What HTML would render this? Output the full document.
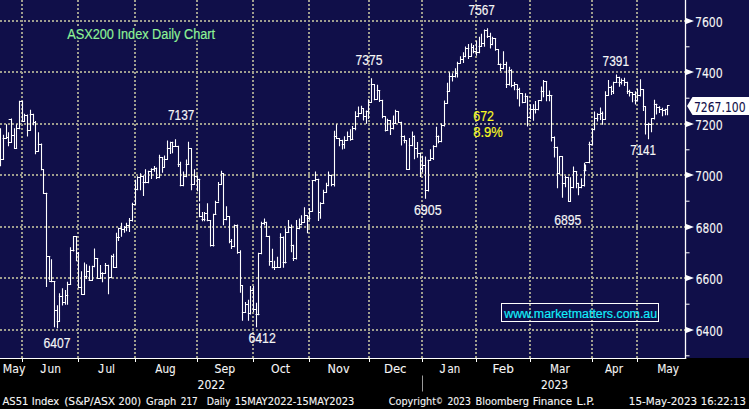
<!DOCTYPE html>
<html lang="en"><head><meta charset="utf-8"><title>ASX200 Index Daily Chart</title>
<style>
html,body{margin:0;padding:0;background:#000;}
body{width:749px;height:409px;position:relative;overflow:hidden;font-family:"Liberation Sans",Arial,sans-serif;}
</style></head><body>
<svg width="749" height="409" viewBox="0 0 749 409" style="display:block;position:absolute;left:0;top:0">
<rect x="0" y="0" width="749" height="409" fill="#000"/>
<rect x="0" y="0" width="749" height="358" fill="#100f49"/>
<path d="M0 330.0H686M0 278.0H686M0 227.0H686M0 175.0H686M0 124.0H686M0 72.0H686M0 21.0H686" stroke="#9f9e8e" stroke-width="2" stroke-dasharray="2 2" fill="none"/>
<path d="M22 0V358M78 0V358M135 0V358M197 0V358M253 0V358M309 0V358M369 0V358M422 0V358M476 0V358M530 0V358M592 0V358M637 0V358" stroke="#9f9e8e" stroke-width="2" stroke-dasharray="2 2" fill="none"/>
<path d="M685.5 0V359" stroke="#fff" stroke-width="1.3" fill="none"/><path d="M0 358.5H686.2" stroke="#fff" stroke-width="1" fill="none"/>
<path d="M686 355.8h3.5M686 304.2h3.5M686 252.8h3.5M686 201.2h3.5M686 149.8h3.5M686 98.2h3.5M686 46.8h3.5" stroke="#fff" stroke-width="1" fill="none"/>
<path d="M686 327.0L694 330.0L686 333.0ZM686 275.0L694 278.0L686 281.0ZM686 224.0L694 227.0L686 230.0ZM686 172.0L694 175.0L686 178.0ZM686 121.0L694 124.0L686 127.0ZM686 69.0L694 72.0L686 75.0ZM686 18.0L694 21.0L686 24.0Z" fill="#fff"/>
<path d="M22.5 358.5V362M78.5 358.5V362M135.5 358.5V362M197.5 358.5V362M253.5 358.5V362M309.5 358.5V362M369.5 358.5V362M422.5 358.5V362M476.5 358.5V362M530.5 358.5V362M592.5 358.5V362M637.5 358.5V362" stroke="#fff" stroke-width="1" fill="none"/>
<path d="M422.5 375.5V391.5" stroke="#9a9a9a" stroke-width="1" fill="none"/>
<path d="M0.5 128.7V156.0M3.5 135.2V156.0M3.2 138.5H6.5M6.5 124.7V138.4M6.5 137.5H8.4M8.5 132.7V145.6M8.4 142.5H11.3M9.2 119.5H11.3M11.5 119.0V142.4M12.1 135.5H14.5M14.5 128.7V148.1M14.5 148.5H16.6M16.5 124.7V148.1M16.6 128.5H19.7M19.5 101.3V128.7M19.7 101.5H22.3M22.5 101.3V121.5M22.3 121.5H24.5M24.5 114.2V121.5M24.5 115.5H27.4M27.5 115.0V136.0M27.4 130.5H30.3M30.5 110.2V130.3M30.3 114.5H33.4M33.5 114.2V124.7M33.4 122.5H35.5M35.5 121.5V153.7M35.5 151.5H38.4M38.5 132.7V151.3M38.4 144.5H41.6M41.5 144.0V156.0M0.5 154.5V165.8M0.5 159.5H3.2M3.5 154.5V159.4M41.5 154.5V169.8M41.6 169.5H43.5M43.5 169.8V193.2M43.5 193.5H46.8M46.5 193.2V206.0M46.5 204.1V262.0M118.5 228.3V240.4M118.9 228.5H121.3M121.5 223.4V236.3M121.3 229.5H124.5M124.5 226.6V232.3M124.5 227.5H126.9M126.5 223.4V230.7M126.9 225.5H129.4M129.5 218.6V231.5M129.4 220.5H132.4M132.5 203.3V221.0M132.4 204.5H135.3M135.5 196.0V204.1M46.5 246.1V286.5M46.5 256.5H49.7M49.5 256.6V280.0M51.5 259.8V281.6M49.7 281.5H54.8M54.5 281.6V296.0M67.5 282.4V296.0M67.7 284.5H70.6M70.5 247.7V284.0M70.6 250.5H73.9M73.5 236.5V251.0M73.9 236.5H76.8M76.5 236.5V260.6M76.8 253.5H78.4M78.5 252.6V287.3M78.4 287.5H81.6M81.5 271.9V294.5M81.6 294.5H84.4M84.5 263.1V294.5M84.4 276.5H86.8M86.5 264.7V278.4M86.8 271.5H89.2M89.5 266.3V280.0M89.2 280.5H92.4M92.5 266.3V280.0M92.4 266.5H94.5M94.5 249.0V266.8M94.5 258.5H97.7M97.5 258.7V278.4M97.7 278.5H100.5M100.5 265.5V278.4M100.5 273.5H102.6M102.5 272.7V281.6M102.6 273.5H105.3M105.5 263.5V273.5M105.3 265.5H108.5M108.5 265.2V293.7M108.5 277.5H111.5M111.5 255.8V277.6M111.5 256.5H113.7M113.5 254.2V267.4M113.7 267.5H116.6M116.5 233.2V267.4M116.6 237.5H119.4M54.5 294.5V326.8M54.8 310.5H57.3M57.5 305.8V327.6M57.3 321.5H59.4M59.5 293.7V321.1M59.4 296.5H62.6M62.5 288.9V305.0M62.6 302.5H65.5M65.5 290.5V304.2M65.5 295.5H67.7M67.5 283.2V304.2M135.5 180.2V201.0M135.2 189.5H137.6M137.5 176.9V189.8M137.6 177.5H140.5M140.5 173.7V189.8M140.5 176.5H143.2M143.5 176.1V195.5M143.2 182.5H148.4M145.5 169.7V182.6M148.5 171.3V182.6M148.4 171.5H151.3M151.5 168.9V178.5M151.3 169.5H154.2M154.5 166.5V171.3M154.2 168.5H156.6M156.5 168.1V178.5M156.6 177.5H159.4M159.5 155.2V177.7M159.4 157.5H162.6M162.5 157.6V172.1M162.6 167.5H164.2M164.5 156.0V167.3M164.2 159.5H167.4M167.5 141.1V159.2M167.4 148.5H170.6M170.5 142.3V153.5M170.6 142.5H172.7M172.5 142.3V152.7M172.7 146.5H178.2M175.5 139.8V146.3M178.5 146.3V166.5M178.2 164.5H180.3M180.5 162.4V185.8M180.3 185.5H183.5M183.5 172.1V185.8M183.5 176.5H186.3M186.5 160.0V176.6M186.3 164.5H188.7M188.5 142.3V164.0M188.7 148.5H191.3M191.5 148.7V189.8M191.3 184.5H194.4M194.5 169.7V184.2M194.4 176.5H197.3M197.5 176.1V190.6M197.3 179.5H199.7M199.5 179.4V201.0M218.5 182.6V201.0M218.7 184.5H221.5M221.5 171.3V184.2M221.5 173.5H223.4M223.5 173.7V201.0M199.5 203.7V216.6M199.4 216.5H202.1M202.5 212.6V220.6M202.1 219.5H204.8M204.5 212.6V220.6M204.8 213.5H207.3M207.5 203.7V220.6M207.3 220.5H210.6M210.5 220.6V225.0M213.5 214.2V225.0M213.9 214.5H215.8M215.5 201.3V214.2M215.8 202.5H218.5M223.5 197.3V224.7M223.5 219.5H226.6M226.5 206.9V219.8M226.6 216.5H229.5M229.5 216.6V225.0M234.5 225.5V226.3M234.4 225.5H237.6M237.5 225.5V226.3M261.5 222.3V225.0M261.5 223.5H264.2M264.5 219.0V224.7M264.2 222.5H266.3M266.5 222.3V225.0M285.5 228.7V231.0M288.5 220.6V231.0M288.4 227.5H291.3M291.5 227.1V231.0M296.5 220.6V231.0M296.5 228.5H299.4M299.5 219.0V228.7M299.4 224.5H301.6M301.5 215.8V224.7M301.6 222.5H304.5M304.5 207.7V222.3M304.5 215.5H307.4M307.5 215.8V232.7M307.4 218.5H309.8M309.5 208.5V219.8M210.5 225.0V246.0M210.6 245.5H213.9M213.5 225.0V246.0M229.5 225.0V242.7M229.5 241.5H231.6M231.5 239.5V248.4M231.6 246.5H234.4M234.5 225.0V246.8M237.5 225.0V253.2M237.6 252.5H240.5M240.5 250.8V279.8M258.5 253.2V279.8M258.5 253.5H261.5M261.5 225.0V253.7M266.5 225.0V236.3M266.3 236.5H269.4M269.5 236.3V265.3M269.4 261.5H272.3M272.5 249.2V267.7M272.3 267.5H275.0M274.5 261.3V269.4M275.0 267.5H280.3M277.5 257.3V267.3M280.5 233.9V267.3M280.3 237.5H283.2M283.5 237.1V267.3M283.2 262.5H286.0M285.5 229.0V262.9M286.0 232.5H288.7M288.5 225.0V232.3M291.5 225.0V251.6M291.3 245.5H293.2M293.5 245.2V260.5M293.2 258.5H296.5M296.5 225.0V258.9M240.5 280.0V292.1M240.5 285.5H242.4M242.5 285.6V320.3M242.4 312.5H245.6M245.5 302.6V312.3M245.6 304.5H248.4M248.5 300.2V320.3M248.4 313.5H250.5M250.5 286.5V313.9M250.5 290.5H253.2M253.5 286.5V311.5M253.2 309.5H256.1M256.5 303.4V326.8M256.1 314.5H258.9M258.5 280.0V314.7M309.8 211.5H312.3M312.5 181.0V211.3M312.3 180.5H315.5M315.5 172.1V181.0M315.5 179.5H318.7M318.5 179.4V220.5M318.7 212.5H320.5M320.5 202.7V218.1M320.5 203.5H323.7M323.5 190.3V203.2M323.7 192.5H326.5M326.5 183.4V192.3M326.5 185.5H328.5M328.5 172.1V185.8M328.5 175.5H331.6M331.5 175.3V185.8M331.6 184.5H334.5M334.5 131.3V186.0M334.4 136.5H336.6M336.5 124.8V138.5M336.6 138.5H339.5M339.5 138.5V145.8M339.5 140.5H342.3M342.5 140.2V149.0M342.3 144.5H344.4M344.5 136.9V148.2M344.4 140.5H347.6M347.5 132.1V140.2M347.6 136.5H350.5M350.5 129.7V140.2M350.5 139.5H352.7M352.5 126.5V139.4M352.7 128.5H355.6M355.5 120.0V128.9M401.5 122.4V145.0M401.3 136.5H404.0M404.5 136.1V142.6M404.0 140.5H406.5M406.5 141.0V169.2M406.5 169.5H409.4M409.5 138.5V169.2M409.4 145.5H412.6M412.5 132.1V145.8M412.6 136.5H414.5M414.5 136.1V158.7M414.5 148.5H417.4M417.5 142.6V157.1M417.4 153.5H420.5M420.5 153.1V176.5M420.5 168.5H422.6M422.5 156.3V171.6M422.6 165.5H425.3M425.5 157.1V198.2M425.3 190.5H428.2M428.5 160.3V191.0M428.2 160.5H430.6M430.5 149.8V160.3M430.6 158.5H433.4M433.5 145.8V159.5M433.4 146.5H436.3M436.5 127.3V146.6M436.3 136.5H438.7M438.5 136.1V142.6M438.7 141.5H441.5M441.5 124.0V141.8M441.5 125.5H444.4M444.5 120.0V125.6M336.5 124.8V134.5M355.5 111.9V129.7M355.5 116.5H358.2M358.5 107.1V116.8M358.2 113.5H361.5M361.5 106.3V113.5M361.5 108.5H363.5M363.5 108.7V120.0M363.5 116.5H366.3M366.5 111.1V123.2M366.3 111.5H368.9M368.5 99.8V118.4M368.9 102.5H371.3M371.5 78.9V102.3M371.3 84.5H374.4M374.5 84.5V99.8M374.4 99.5H377.3M377.5 85.3V99.0M377.3 90.5H379.7M379.5 91.0V101.5M379.7 100.5H382.6M382.5 100.3V117.6M382.6 116.5H385.3M385.5 116.8V131.0M385.3 130.5H387.7M387.5 119.2V130.5M387.7 120.5H390.5M390.5 120.8V134.5M390.5 128.5H393.1M393.5 116.0V128.9M393.1 123.5H395.8M395.5 110.3V123.2M395.8 111.5H398.5M398.5 111.6V122.4M398.5 122.5H401.5M401.5 122.4V134.5M444.5 101.1V126.0M444.5 103.5H447.3M447.5 83.4V103.2M447.3 91.5H449.4M449.5 72.9V91.5M449.4 76.5H455.5M452.5 73.7V81.0M455.5 68.9V76.9M455.5 73.5H457.4M457.5 62.4V76.9M457.4 63.5H460.3M506.5 62.4V87.4M506.3 84.5H509.0M509.5 67.3V85.0M509.0 70.5H511.5M511.5 69.7V86.6M511.5 85.5H514.4M514.5 82.6V89.8M514.4 84.5H517.1M517.5 85.0V98.7M517.1 89.5H519.5M519.5 88.2V106.0M519.5 93.5H522.4M522.5 93.9V102.7M522.4 102.5H525.2M525.5 93.9V102.3M525.2 96.5H527.6M527.5 96.3V126.0M527.6 117.5H530.3M460.5 56.7V63.2M460.5 59.5H463.4M463.5 52.7V62.4M463.4 56.5H465.5M465.5 47.1V56.7M465.5 48.5H468.7M468.5 44.6V58.4M468.7 56.5H471.5M471.5 43.8V56.3M471.5 47.5H473.4M473.5 45.5V52.7M473.4 51.5H476.3M476.5 41.4V55.1M476.3 52.5H479.2M479.5 37.4V52.7M479.2 46.5H481.6M481.5 34.2V46.3M481.6 43.5H484.4M484.5 30.1V46.3M484.4 30.5H487.3M487.5 28.8V37.4M487.3 36.5H490.5M490.5 33.4V47.9M490.5 44.5H492.4M492.5 37.4V44.6M492.4 38.5H495.6M495.5 39.0V50.3M495.6 49.5H498.1M498.5 49.5V64.0M498.1 64.5H501.0M500.5 64.0V70.5M501.0 68.5H503.4M503.5 51.9V68.8M503.4 64.5H506.5M530.5 104.8V118.5M530.8 109.5H538.4M533.5 104.8V120.2M535.5 101.6V112.9M538.5 100.8V109.7M538.4 100.5H541.3M541.5 87.1V100.8M541.3 91.5H543.7M543.5 80.6V96.8M543.7 81.5H546.6M546.5 81.5V100.8M546.6 95.5H551.8M549.5 91.1V100.8M551.5 95.6V141.0M551.8 137.5H554.2M554.5 137.1V141.0M592.5 129.0V141.0M592.1 129.5H594.5M594.5 112.1V129.8M594.5 118.5H597.7M597.5 113.7V121.0M597.7 114.5H600.5M600.5 108.1V119.4M600.5 113.5H602.6M602.5 112.1V124.2M602.6 119.5H605.5M605.5 91.9V119.4M605.5 95.5H608.5M608.5 80.6V95.2M608.5 87.5H611.5M611.5 86.3V94.4M611.5 91.5H613.5M613.5 82.3V93.5M613.5 82.5H616.8M616.5 75.0V82.3M616.8 77.5H619.0M619.5 77.4V86.3M619.0 82.5H621.6M621.5 79.0V83.9M621.6 80.5H624.4M624.5 78.2V85.5M624.4 82.5H627.3M627.5 82.3V93.5M627.3 91.5H629.7M629.5 90.3V96.0M629.7 92.5H632.4M632.5 92.7V101.6M632.4 94.5H635.2M635.5 91.9V104.0M635.2 100.5H637.3M637.5 89.5V100.8M637.3 95.5H640.5M640.5 79.8V96.0M640.5 89.5H643.4M643.5 89.5V110.5M643.4 106.5H645.3M645.5 106.5V133.9M645.3 124.5H648.2M648.5 123.4V138.7M554.5 140.0V156.9M554.2 147.5H557.3M557.5 147.3V187.6M557.3 173.5H559.5M559.5 156.9V173.9M559.5 156.5H562.4M562.5 156.9V197.3M562.4 183.5H565.3M565.5 176.3V186.8M565.3 177.5H568.5M568.5 177.4V201.3M568.5 201.5H570.5M570.5 177.9V201.3M570.5 187.5H573.4M573.5 167.1V187.6M573.4 171.5H576.6M576.5 171.5V187.6M576.6 183.5H578.5M578.5 183.2V194.8M578.5 187.5H581.5M581.5 178.7V187.6M581.5 185.5H584.2M584.5 163.4V186.0M584.2 170.5H585.8M585.5 165.0V170.6M585.8 162.5H589.0M589.5 142.4V162.6M589.0 144.5H592.3M592.5 140.0V144.8M648.4 124.5H651.6M651.5 118.9V131.8M651.6 118.5H654.4M654.5 100.3V118.9M654.4 104.5H656.8M656.5 104.4V114.0M656.8 107.5H659.7M659.5 106.8V112.4M659.7 109.5H662.4M662.5 108.4V115.6M662.4 110.5H665.2M665.5 109.2V114.8M665.2 109.5H667.6M667.5 106.0V114.8M667.6 105.5H669.0" stroke="#fff" stroke-width="1.1" fill="none" stroke-linecap="square"/>
<path d="M687 106L692.5 97H749V115H692.5Z" fill="#fff"/>
</svg>
<svg width="749" height="409" viewBox="0 0 749 409" style="display:block;position:absolute;left:0;top:0"><rect x="65" y="26.5" width="153" height="14" fill="#100f49"/>
<rect x="501.5" y="303.5" width="157" height="18" fill="none" stroke="#fff" stroke-width="1"/>
<text x="67.2" y="39" textLength="147.9" lengthAdjust="spacingAndGlyphs" font-size="14" fill="#8ef296" stroke="#8ef296" stroke-width="0.16" font-family='"Liberation Sans", Arial, sans-serif' >ASX200 Index Daily Chart</text>
<text x="168.0" y="120" textLength="26.32" lengthAdjust="spacingAndGlyphs" font-size="14" fill="#f6f6f6" stroke="#f6f6f6" stroke-width="0.16" font-family='"Liberation Sans", Arial, sans-serif' >7137</text>
<text x="355.6" y="64.6" textLength="27.01" lengthAdjust="spacingAndGlyphs" font-size="14" fill="#f6f6f6" stroke="#f6f6f6" stroke-width="0.16" font-family='"Liberation Sans", Arial, sans-serif' >7375</text>
<text x="468.6" y="15" textLength="26.22" lengthAdjust="spacingAndGlyphs" font-size="14" fill="#f6f6f6" stroke="#f6f6f6" stroke-width="0.16" font-family='"Liberation Sans", Arial, sans-serif' >7567</text>
<text x="602.6" y="66" textLength="26.42" lengthAdjust="spacingAndGlyphs" font-size="14" fill="#f6f6f6" stroke="#f6f6f6" stroke-width="0.16" font-family='"Liberation Sans", Arial, sans-serif' >7391</text>
<text x="630.2" y="154.6" textLength="25.82" lengthAdjust="spacingAndGlyphs" font-size="14" fill="#f6f6f6" stroke="#f6f6f6" stroke-width="0.16" font-family='"Liberation Sans", Arial, sans-serif' >7141</text>
<text x="413.9" y="214.8" textLength="27.71" lengthAdjust="spacingAndGlyphs" font-size="14" fill="#f6f6f6" stroke="#f6f6f6" stroke-width="0.16" font-family='"Liberation Sans", Arial, sans-serif' >6905</text>
<text x="554.2" y="224.8" textLength="27.21" lengthAdjust="spacingAndGlyphs" font-size="14" fill="#f6f6f6" stroke="#f6f6f6" stroke-width="0.16" font-family='"Liberation Sans", Arial, sans-serif' >6895</text>
<text x="43.4" y="348.3" textLength="27.01" lengthAdjust="spacingAndGlyphs" font-size="14" fill="#f6f6f6" stroke="#f6f6f6" stroke-width="0.16" font-family='"Liberation Sans", Arial, sans-serif' >6407</text>
<text x="248.4" y="342.9" textLength="27.41" lengthAdjust="spacingAndGlyphs" font-size="14" fill="#f6f6f6" stroke="#f6f6f6" stroke-width="0.16" font-family='"Liberation Sans", Arial, sans-serif' >6412</text>
<text x="473.2" y="121.3" textLength="20.81" lengthAdjust="spacingAndGlyphs" font-size="14" fill="#fbfb22" stroke="#fbfb22" stroke-width="0.16" font-family='"Liberation Sans", Arial, sans-serif' >672</text>
<text x="473.2" y="137.0" textLength="29.72" lengthAdjust="spacingAndGlyphs" font-size="14" fill="#fbfb22" stroke="#fbfb22" stroke-width="0.16" font-family='"Liberation Sans", Arial, sans-serif' >8.9%</text>
<text x="504.21" y="317.5" textLength="152.95" lengthAdjust="spacingAndGlyphs" font-size="13.7" fill="#12f0fc" stroke="#12f0fc" stroke-width="0.16" font-family='"Liberation Sans", Arial, sans-serif' >www.marketmatters.com.au</text>
<text x="695.8" y="335.7" textLength="27.06" lengthAdjust="spacingAndGlyphs" font-size="13.9" fill="#f6f6f6" stroke="#f6f6f6" stroke-width="0.1" font-family='"DejaVu Sans Condensed", "DejaVu Sans", sans-serif' >6400</text>
<text x="695.8" y="283.7" textLength="27.06" lengthAdjust="spacingAndGlyphs" font-size="13.9" fill="#f6f6f6" stroke="#f6f6f6" stroke-width="0.1" font-family='"DejaVu Sans Condensed", "DejaVu Sans", sans-serif' >6600</text>
<text x="695.8" y="232.7" textLength="27.06" lengthAdjust="spacingAndGlyphs" font-size="13.9" fill="#f6f6f6" stroke="#f6f6f6" stroke-width="0.1" font-family='"DejaVu Sans Condensed", "DejaVu Sans", sans-serif' >6800</text>
<text x="694.92" y="180.7" textLength="27.93" lengthAdjust="spacingAndGlyphs" font-size="13.9" fill="#f6f6f6" stroke="#f6f6f6" stroke-width="0.1" font-family='"DejaVu Sans Condensed", "DejaVu Sans", sans-serif' >7000</text>
<text x="694.92" y="129.7" textLength="27.93" lengthAdjust="spacingAndGlyphs" font-size="13.9" fill="#f6f6f6" stroke="#f6f6f6" stroke-width="0.1" font-family='"DejaVu Sans Condensed", "DejaVu Sans", sans-serif' >7200</text>
<text x="694.92" y="77.7" textLength="27.93" lengthAdjust="spacingAndGlyphs" font-size="13.9" fill="#f6f6f6" stroke="#f6f6f6" stroke-width="0.1" font-family='"DejaVu Sans Condensed", "DejaVu Sans", sans-serif' >7400</text>
<text x="694.92" y="26.7" textLength="27.93" lengthAdjust="spacingAndGlyphs" font-size="13.9" fill="#f6f6f6" stroke="#f6f6f6" stroke-width="0.1" font-family='"DejaVu Sans Condensed", "DejaVu Sans", sans-serif' >7600</text>
<text x="693.93" y="111.7" textLength="51.62" lengthAdjust="spacingAndGlyphs" font-size="13.9" fill="#12104a" stroke="#12104a" stroke-width="0.1" font-family='"DejaVu Sans Condensed", "DejaVu Sans", sans-serif' >7267.100</text>
<text x="2.74" y="372.6" textLength="22.72" lengthAdjust="spacingAndGlyphs" font-size="12.7" fill="#f6f6f6" stroke="#f6f6f6" stroke-width="0.1" font-family='"DejaVu Sans Condensed", "DejaVu Sans", sans-serif' >May</text>
<text x="47.5" y="372.6" textLength="13.42" lengthAdjust="spacingAndGlyphs" font-size="12.7" fill="#f6f6f6" stroke="#f6f6f6" stroke-width="0.1" font-family='"DejaVu Sans Condensed", "DejaVu Sans", sans-serif' >un</text>
<text x="105.4" y="372.6" textLength="9.66" lengthAdjust="spacingAndGlyphs" font-size="12.7" fill="#f6f6f6" stroke="#f6f6f6" stroke-width="0.1" font-family='"DejaVu Sans Condensed", "DejaVu Sans", sans-serif' >ul</text>
<text x="155.3" y="372.6" textLength="20.43" lengthAdjust="spacingAndGlyphs" font-size="12.7" fill="#f6f6f6" stroke="#f6f6f6" stroke-width="0.1" font-family='"DejaVu Sans Condensed", "DejaVu Sans", sans-serif' >Aug</text>
<text x="214.5" y="372.6" textLength="20.64" lengthAdjust="spacingAndGlyphs" font-size="12.7" fill="#f6f6f6" stroke="#f6f6f6" stroke-width="0.1" font-family='"DejaVu Sans Condensed", "DejaVu Sans", sans-serif' >Sep</text>
<text x="271.1" y="372.6" textLength="18.99" lengthAdjust="spacingAndGlyphs" font-size="12.7" fill="#f6f6f6" stroke="#f6f6f6" stroke-width="0.1" font-family='"DejaVu Sans Condensed", "DejaVu Sans", sans-serif' >Oct</text>
<text x="327.61" y="372.6" textLength="21.94" lengthAdjust="spacingAndGlyphs" font-size="12.7" fill="#f6f6f6" stroke="#f6f6f6" stroke-width="0.1" font-family='"DejaVu Sans Condensed", "DejaVu Sans", sans-serif' >Nov</text>
<text x="383.98" y="372.6" textLength="22.5" lengthAdjust="spacingAndGlyphs" font-size="12.7" fill="#f6f6f6" stroke="#f6f6f6" stroke-width="0.1" font-family='"DejaVu Sans Condensed", "DejaVu Sans", sans-serif' >Dec</text>
<text x="447.4" y="372.6" textLength="12.71" lengthAdjust="spacingAndGlyphs" font-size="12.7" fill="#f6f6f6" stroke="#f6f6f6" stroke-width="0.1" font-family='"DejaVu Sans Condensed", "DejaVu Sans", sans-serif' >an</text>
<text x="492.54" y="372.6" textLength="21.32" lengthAdjust="spacingAndGlyphs" font-size="12.7" fill="#f6f6f6" stroke="#f6f6f6" stroke-width="0.1" font-family='"DejaVu Sans Condensed", "DejaVu Sans", sans-serif' >Feb</text>
<text x="550.09" y="372.6" textLength="19.63" lengthAdjust="spacingAndGlyphs" font-size="12.7" fill="#f6f6f6" stroke="#f6f6f6" stroke-width="0.1" font-family='"DejaVu Sans Condensed", "DejaVu Sans", sans-serif' >Mar</text>
<text x="605.0" y="372.6" textLength="17.92" lengthAdjust="spacingAndGlyphs" font-size="12.7" fill="#f6f6f6" stroke="#f6f6f6" stroke-width="0.1" font-family='"DejaVu Sans Condensed", "DejaVu Sans", sans-serif' >Apr</text>
<text x="657.17" y="372.6" textLength="22.0" lengthAdjust="spacingAndGlyphs" font-size="12.7" fill="#f6f6f6" stroke="#f6f6f6" stroke-width="0.1" font-family='"DejaVu Sans Condensed", "DejaVu Sans", sans-serif' >May</text>
<text x="40.3" y="372.6" textLength="6.03" lengthAdjust="spacingAndGlyphs" font-size="12.7" fill="#f6f6f6" stroke="#f6f6f6" stroke-width="0.1" font-family='"Liberation Sans", Arial, sans-serif' >J</text>
<text x="97.9" y="372.6" textLength="6.03" lengthAdjust="spacingAndGlyphs" font-size="12.7" fill="#f6f6f6" stroke="#f6f6f6" stroke-width="0.1" font-family='"Liberation Sans", Arial, sans-serif' >J</text>
<text x="439.4" y="372.6" textLength="6.03" lengthAdjust="spacingAndGlyphs" font-size="12.7" fill="#f6f6f6" stroke="#f6f6f6" stroke-width="0.1" font-family='"Liberation Sans", Arial, sans-serif' >J</text>
<text x="197.5" y="389" textLength="27.65" lengthAdjust="spacingAndGlyphs" font-size="12.7" fill="#f6f6f6" stroke="#f6f6f6" stroke-width="0.1" font-family='"DejaVu Sans Condensed", "DejaVu Sans", sans-serif' >2022</text>
<text x="541.0" y="389" textLength="26.94" lengthAdjust="spacingAndGlyphs" font-size="12.7" fill="#f6f6f6" stroke="#f6f6f6" stroke-width="0.1" font-family='"DejaVu Sans Condensed", "DejaVu Sans", sans-serif' >2023</text>
<text x="2.5" y="405" textLength="26.0" lengthAdjust="spacingAndGlyphs" font-size="11" fill="#f6f6f6" stroke="#f6f6f6" stroke-width="0.1" font-family='"DejaVu Sans Condensed", "DejaVu Sans", sans-serif' >AS51</text>
<text x="31.7" y="405" textLength="27.55" lengthAdjust="spacingAndGlyphs" font-size="11" fill="#f6f6f6" stroke="#f6f6f6" stroke-width="0.1" font-family='"DejaVu Sans Condensed", "DejaVu Sans", sans-serif' >Index</text>
<text x="64.2" y="405" textLength="50.96" lengthAdjust="spacingAndGlyphs" font-size="11" fill="#f6f6f6" stroke="#f6f6f6" stroke-width="0.1" font-family='"DejaVu Sans Condensed", "DejaVu Sans", sans-serif' >(S&amp;P/ASX</text>
<text x="118.6" y="405" textLength="22.36" lengthAdjust="spacingAndGlyphs" font-size="11" fill="#f6f6f6" stroke="#f6f6f6" stroke-width="0.1" font-family='"DejaVu Sans Condensed", "DejaVu Sans", sans-serif' >200)</text>
<text x="146.1" y="405" textLength="30.17" lengthAdjust="spacingAndGlyphs" font-size="11" fill="#f6f6f6" stroke="#f6f6f6" stroke-width="0.1" font-family='"DejaVu Sans Condensed", "DejaVu Sans", sans-serif' >Graph</text>
<text x="180.7" y="405" textLength="17.07" lengthAdjust="spacingAndGlyphs" font-size="11" fill="#f6f6f6" stroke="#f6f6f6" stroke-width="0.1" font-family='"DejaVu Sans Condensed", "DejaVu Sans", sans-serif' >217</text>
<text x="206.7" y="405" textLength="23.86" lengthAdjust="spacingAndGlyphs" font-size="11" fill="#f6f6f6" stroke="#f6f6f6" stroke-width="0.1" font-family='"DejaVu Sans Condensed", "DejaVu Sans", sans-serif' >Daily</text>
<text x="234.7" y="405" textLength="119.59" lengthAdjust="spacingAndGlyphs" font-size="11" fill="#f6f6f6" stroke="#f6f6f6" stroke-width="0.1" font-family='"DejaVu Sans Condensed", "DejaVu Sans", sans-serif' >15MAY2022-15MAY2023</text>
<text x="388.7" y="405" textLength="47.38" lengthAdjust="spacingAndGlyphs" font-size="11" fill="#f6f6f6" stroke="#f6f6f6" stroke-width="0.1" font-family='"DejaVu Sans Condensed", "DejaVu Sans", sans-serif' >Copyright</text>
<text x="447.4" y="405" textLength="23.47" lengthAdjust="spacingAndGlyphs" font-size="11" fill="#f6f6f6" stroke="#f6f6f6" stroke-width="0.1" font-family='"DejaVu Sans Condensed", "DejaVu Sans", sans-serif' >2023</text>
<text x="475.6" y="405" textLength="53.28" lengthAdjust="spacingAndGlyphs" font-size="11" fill="#f6f6f6" stroke="#f6f6f6" stroke-width="0.1" font-family='"DejaVu Sans Condensed", "DejaVu Sans", sans-serif' >Bloomberg</text>
<text x="532.8" y="405" textLength="39.29" lengthAdjust="spacingAndGlyphs" font-size="11" fill="#f6f6f6" stroke="#f6f6f6" stroke-width="0.1" font-family='"DejaVu Sans Condensed", "DejaVu Sans", sans-serif' >Finance</text>
<text x="576.5" y="405" textLength="18.16" lengthAdjust="spacingAndGlyphs" font-size="11" fill="#f6f6f6" stroke="#f6f6f6" stroke-width="0.1" font-family='"DejaVu Sans Condensed", "DejaVu Sans", sans-serif' >L.P.</text>
<text x="628.85" y="405" textLength="68.26" lengthAdjust="spacingAndGlyphs" font-size="11" fill="#f6f6f6" stroke="#f6f6f6" stroke-width="0.1" font-family='"DejaVu Sans Condensed", "DejaVu Sans", sans-serif' >15-May-2023</text>
<text x="700.79" y="405" textLength="45.01" lengthAdjust="spacingAndGlyphs" font-size="11" fill="#f6f6f6" stroke="#f6f6f6" stroke-width="0.1" font-family='"DejaVu Sans Condensed", "DejaVu Sans", sans-serif' >16:22:13</text>
<text x="436.07" y="404" textLength="6.72" lengthAdjust="spacingAndGlyphs" font-size="8" fill="#f6f6f6" stroke="#f6f6f6" stroke-width="0.1" font-family='"DejaVu Sans Condensed", "DejaVu Sans", sans-serif' >©</text></svg>
</body></html>
